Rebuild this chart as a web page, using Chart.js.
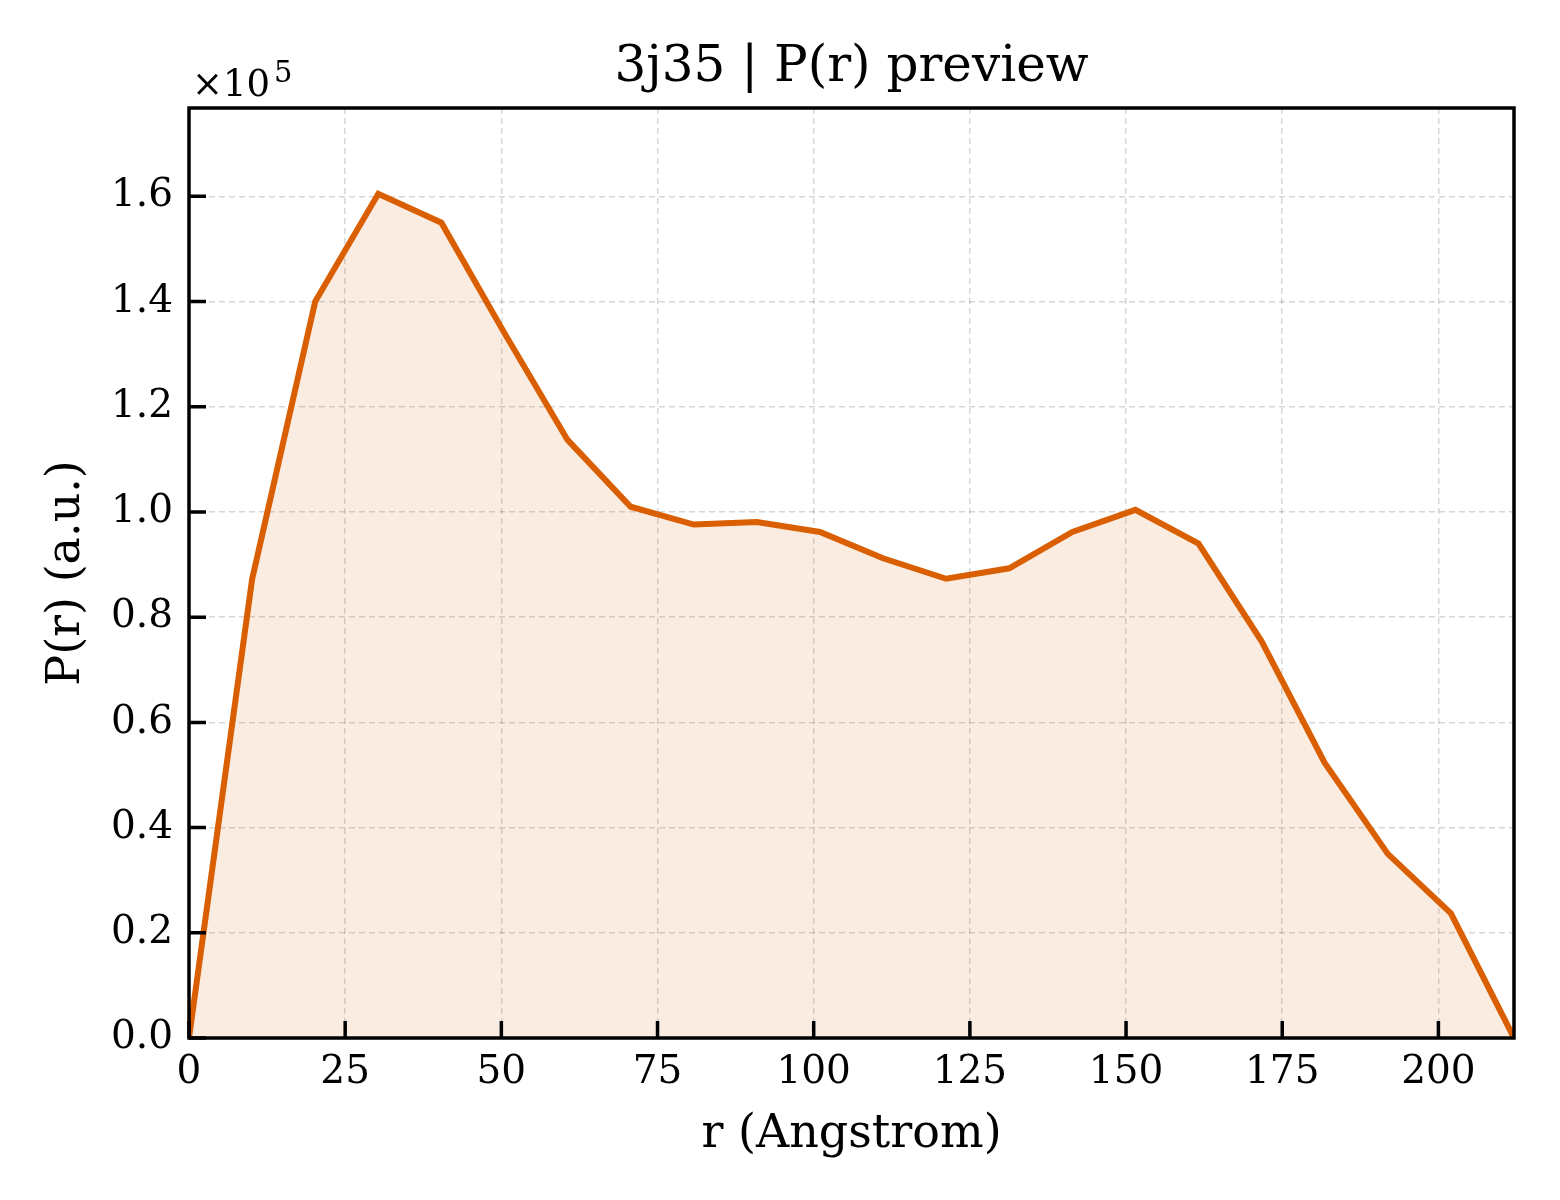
<!DOCTYPE html>
<html>
<head>
<meta charset="utf-8">
<title>3j35 P(r) preview</title>
<script src="https://cdn.jsdelivr.net/npm/chart.js@4.4.1/dist/chart.umd.min.js"></script>
<style>
  html, body { margin: 0; padding: 0; background: #fff; }
  #wrap { width: 1560px; height: 1200px; }
</style>
</head>
<body>
<div id="wrap"><canvas id="prChart" width="1560" height="1200"></canvas></div>
<script>
const rValues = [0, 10.1, 20.2, 30.3, 40.4, 50.5, 60.6, 70.7, 80.8, 90.9, 101.0,
  111.1, 121.2, 131.3, 141.4, 151.5, 161.6, 171.7, 181.8, 191.9, 202.0, 212.1];
const prValues = [0, 87200, 140000, 160500, 155000, 134000, 113700, 101000, 97600, 98100, 96200,
  91200, 87300, 89300, 96200, 100400, 94000, 75400, 52300, 35000, 23700, 0];

const xTicks = [0, 25, 50, 75, 100, 125, 150, 175, 200];
const yTicks = [0, 20000, 40000, 60000, 80000, 100000, 120000, 140000, 160000];

const FONT = '"DejaVu Serif", "Liberation Serif", serif';
const LINE_COLOR = '#d95f02';

// frame, inward ticks and the x10^5 offset text (matplotlib style)
const frameAndTicks = {
  id: 'frameAndTicks',
  afterDraw(chart) {
    const { ctx, chartArea: a, scales: { x, y } } = chart;
    ctx.save();
    ctx.strokeStyle = '#000';
    ctx.lineWidth = 3.5;
    ctx.beginPath();
    x.ticks.forEach(t => {
      const px = x.getPixelForValue(t.value);
      ctx.moveTo(px, a.bottom);
      ctx.lineTo(px, a.bottom - 17);
    });
    y.ticks.forEach(t => {
      const py = y.getPixelForValue(t.value);
      ctx.moveTo(a.left, py);
      ctx.lineTo(a.left + 17, py);
    });
    ctx.stroke();
    ctx.strokeRect(a.left, a.top, a.right - a.left, a.bottom - a.top);

    ctx.fillStyle = '#000';
    ctx.textBaseline = 'alphabetic';
    ctx.textAlign = 'left';
    ctx.font = '37px ' + FONT;
    ctx.fillText('×10', 192, 96);
    const w = ctx.measureText('×10').width;
    ctx.font = '29px ' + FONT;
    ctx.fillText('5', 192 + w + 4, 82);
    ctx.restore();
  }
};

const ctx = document.getElementById('prChart').getContext('2d');
new Chart(ctx, {
  type: 'line',
  data: {
    datasets: [{
      data: rValues.map((r, i) => ({ x: r, y: prValues[i] })),
      borderColor: LINE_COLOR,
      backgroundColor: 'rgba(217, 95, 2, 0.12)',
      borderWidth: 6,
      fill: 'origin',
      pointRadius: 0,
      tension: 0
    }]
  },
  options: {
    responsive: false,
    devicePixelRatio: 1,
    animation: false,
    layout: { padding: { left: 0, right: 46, top: 0, bottom: 0 } },
    plugins: {
      legend: { display: false },
      tooltip: { enabled: false },
      title: {
        display: true,
        text: '3j35 | P(r) preview',
        fullSize: false,
        color: '#000',
        font: { family: FONT, size: 50, weight: 'normal', lineHeight: 1.2 },
        padding: { top: 38, bottom: 10 }
      }
    },
    scales: {
      x: {
        type: 'linear',
        min: 0,
        max: 212.1,
        afterBuildTicks: s => { s.ticks = xTicks.map(v => ({ value: v })); },
        afterFit: s => { s.height = 162; },
        grid: { color: 'rgba(0, 0, 0, 0.16)', lineWidth: 1.5, drawTicks: false },
        border: { display: false, dash: [6, 4] },
        ticks: {
          color: '#000',
          padding: 11,
          maxRotation: 0,
          font: { family: FONT, size: 39 }
        },
        title: {
          display: true,
          text: 'r (Angstrom)',
          color: '#000',
          font: { family: FONT, size: 46, lineHeight: 1.2 },
          padding: { top: 0, bottom: 37 }
        }
      },
      y: {
        min: 0,
        max: 176800,
        afterBuildTicks: s => { s.ticks = yTicks.map(v => ({ value: v })); },
        afterFit: s => { s.width = 189; },
        grid: { color: 'rgba(0, 0, 0, 0.16)', lineWidth: 1.5, drawTicks: false },
        border: { display: false, dash: [6, 4] },
        ticks: {
          color: '#000',
          padding: 16,
          font: { family: FONT, size: 39 },
          callback: v => (v / 1e5).toFixed(1)
        },
        title: {
          display: true,
          text: 'P(r) (a.u.)',
          color: '#000',
          font: { family: FONT, size: 46, lineHeight: 1.2 },
          padding: { top: 39, bottom: 0 }
        }
      }
    }
  },
  plugins: [frameAndTicks]
});
</script>
</body>
</html>
